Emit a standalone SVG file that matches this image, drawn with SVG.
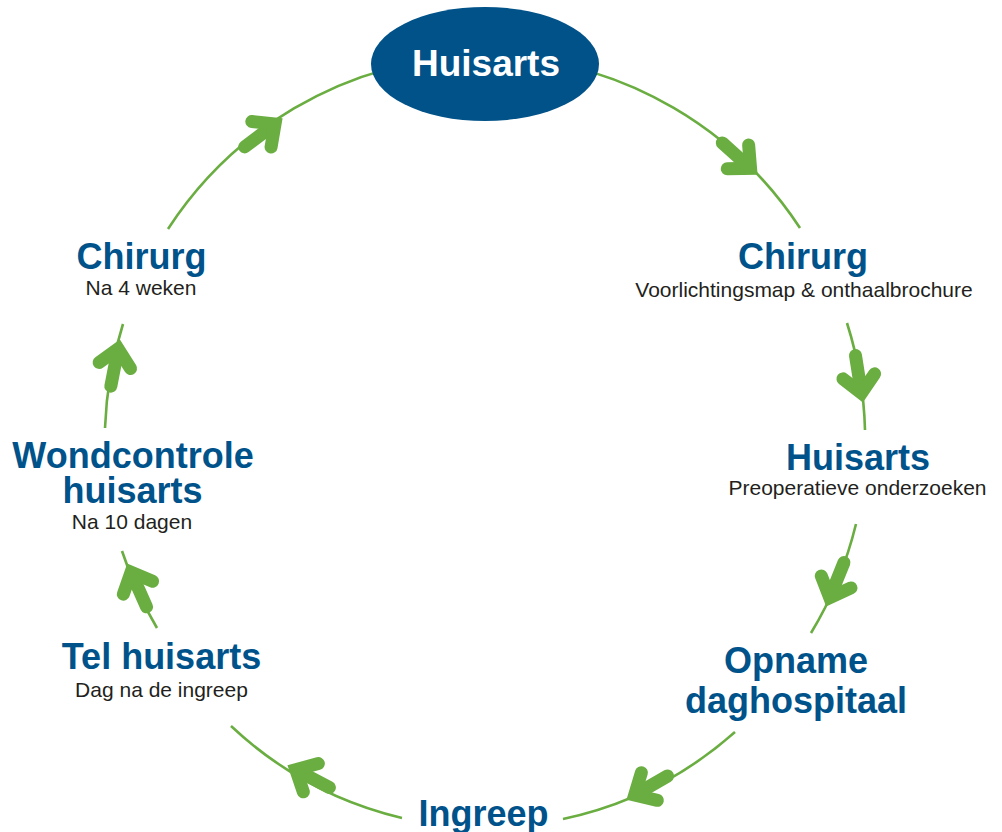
<svg xmlns="http://www.w3.org/2000/svg" xmlns:xlink="http://www.w3.org/1999/xlink" width="1002" height="832" viewBox="0 0 1002 832">
<style>
.arc{fill:none;stroke:#6aad41;stroke-width:2.6}
.arr line,.arr polyline{fill:none;stroke:#6aad41;stroke-width:13;stroke-linecap:round;stroke-linejoin:miter}
.t{font-family:"Liberation Sans",Arial,sans-serif;font-weight:bold;font-size:36px;fill:#00538a;text-anchor:middle}
.s{font-family:"Liberation Sans",Arial,sans-serif;font-size:21px;fill:#231f20;text-anchor:middle}
.w{font-family:"Liberation Sans",Arial,sans-serif;font-weight:bold;font-size:37px;fill:#ffffff;text-anchor:middle}
</style>
<defs>
<g id="arr" class="arr">
<line x1="-48" y1="0" x2="-12" y2="0"/>
<polyline points="-27,-16 -10,0 -27,16"/>
</g>
</defs>
<rect width="1002" height="832" fill="#ffffff"/>
<g id="connectors">
<path class="arc" d="M168,229 A379,384 0 0 1 800,228"/>
<path class="arc" d="M847,323 A379,384 0 0 1 865,430"/>
<path class="arc" d="M856,524 A379,384 0 0 1 811,633"/>
<path class="arc" d="M735,732 A379,384 0 0 1 563,819"/>
<path class="arc" d="M402,818 A379,384 0 0 1 231,726"/>
<path class="arc" d="M157,628 A379,384 0 0 1 122,551"/>
<path class="arc" d="M105,428 A379,384 0 0 1 123,324"/>
<use xlink:href="#arr" transform="translate(758,175) rotate(42)"/>
<use xlink:href="#arr" transform="translate(863,403) rotate(81)"/>
<use xlink:href="#arr" transform="translate(826,607) rotate(112)"/>
<use xlink:href="#arr" transform="translate(626,800) rotate(150)"/>
<use xlink:href="#arr" transform="translate(287,765) rotate(208)"/>
<use xlink:href="#arr" transform="translate(127,563) rotate(246)"/>
<use xlink:href="#arr" transform="translate(120,339) rotate(281)"/>
<use xlink:href="#arr" transform="translate(283,118) rotate(323)"/>
</g>
<g id="node-huisarts-top">
<ellipse cx="485" cy="64" rx="114" ry="57" fill="#005288"/>
<text class="w" x="486" y="76">Huisarts</text>
</g>
<g id="node-chirurg-right">
<text class="t" x="803" y="269">Chirurg</text>
<text class="s" x="804" y="297">Voorlichtingsmap &amp; onthaalbrochure</text>
</g>
<g id="node-huisarts-right">
<text class="t" x="858" y="470">Huisarts</text>
<text class="s" x="857.5" y="495">Preoperatieve onderzoeken</text>
</g>
<g id="node-opname">
<text class="t" x="796" y="673">Opname</text>
<text class="t" x="796" y="713">daghospitaal</text>
</g>
<g id="node-ingreep">
<text class="t" x="483.5" y="826">Ingreep</text>
</g>
<g id="node-tel-huisarts">
<text class="t" x="161.5" y="669">Tel huisarts</text>
<text class="s" x="161.5" y="697">Dag na de ingreep</text>
</g>
<g id="node-wondcontrole">
<text class="t" x="133" y="468">Wondcontrole</text>
<text class="t" x="132.5" y="503">huisarts</text>
<text class="s" x="132" y="529">Na 10 dagen</text>
</g>
<g id="node-chirurg-left">
<text class="t" x="141.5" y="269">Chirurg</text>
<text class="s" x="141" y="295">Na 4 weken</text>
</g>
</svg>
